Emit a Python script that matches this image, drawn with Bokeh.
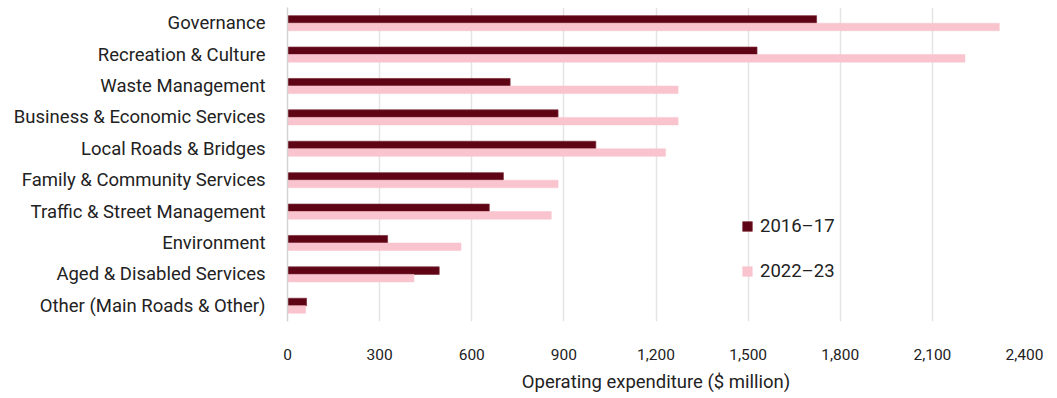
from bokeh.plotting import figure
from bokeh.models import FixedTicker, NumeralTickFormatter, ColumnDataSource, Legend, LegendItem, FactorRange
from bokeh.transform import dodge
from bokeh.embed import file_html
from bokeh.resources import INLINE

categories = ["Governance", "Recreation & Culture", "Waste Management",
              "Business & Economic Services", "Local Roads & Bridges",
              "Family & Community Services", "Traffic & Street Management",
              "Environment", "Aged & Disabled Services", "Other (Main Roads & Other)"]
values_2016_17 = [1723, 1529, 725, 881, 1004, 703, 657, 326, 494, 62]
values_2022_23 = [2318, 2206, 1272, 1272, 1231, 881, 859, 565, 412, 59]
series_names = ["2016\u201317", "2022\u201323"]
x_ticks = [0, 300, 600, 900, 1200, 1500, 1800, 2100, 2400]

FONT = "Roboto"
TXT = "#222222"
DARK = "#5E0414"
PINK = "#F9C4CE"

src = ColumnDataSource(dict(cat=categories, a=values_2016_17, b=values_2022_23))

p = figure(width=1057, height=398, output_backend="svg", toolbar_location=None,
           y_range=FactorRange(factors=list(reversed(categories))),
           x_range=(0, 2400))
p.min_border_left = 287
p.min_border_right = 33
p.min_border_top = 7
p.min_border_bottom = 77
p.outline_line_color = None

r1 = p.hbar(y=dodge("cat", 0.12, range=p.y_range), right="a", height=0.24, source=src,
            fill_color=DARK, line_color="#7a2a38", line_width=0.7)
r2 = p.hbar(y=dodge("cat", -0.12, range=p.y_range), right="b", height=0.24, source=src,
            fill_color=PINK, line_color=PINK, line_width=0.5)

p.xaxis.ticker = FixedTicker(ticks=x_ticks)
p.xaxis.formatter = NumeralTickFormatter(format="0,0")
p.xaxis.axis_line_color = None
p.xaxis.major_tick_line_color = None
p.xaxis.minor_tick_line_color = None
p.xaxis.major_label_standoff = 21
p.xaxis.major_label_text_font = FONT
p.xaxis.major_label_text_font_size = "15.5px"
p.xaxis.major_label_text_color = TXT
p.xaxis.axis_label = "Operating expenditure ($ million)"
p.xaxis.axis_label_text_font = FONT
p.xaxis.axis_label_text_font_size = "18.5px"
p.xaxis.axis_label_text_font_style = "normal"
p.xaxis.axis_label_text_color = TXT
p.xaxis.axis_label_standoff = 8

p.yaxis.axis_line_color = "#d4d4d4"
p.yaxis.axis_line_width = 1.5
p.yaxis.major_tick_line_color = None
p.yaxis.minor_tick_line_color = None
p.yaxis.major_label_standoff = 16
p.yaxis.major_label_text_font = FONT
p.yaxis.major_label_text_font_size = "18.5px"
p.yaxis.major_label_text_color = TXT

p.xgrid.ticker = FixedTicker(ticks=x_ticks)
p.xgrid.grid_line_color = "#e4e4e4"
p.xgrid.grid_line_width = 1.5
p.ygrid.grid_line_color = None

legend = Legend(items=[LegendItem(label=series_names[0], renderers=[r1]),
                       LegendItem(label=series_names[1], renderers=[r2])],
                location=(454, 39), orientation="vertical")
legend.background_fill_alpha = 0
legend.border_line_color = None
legend.padding = 0
legend.margin = 0
legend.glyph_width = 12
legend.glyph_height = 12
legend.label_height = 20
legend.spacing = 23
legend.label_standoff = 7
legend.label_text_font = FONT
legend.label_text_font_size = "18.5px"
legend.label_text_color = TXT
p.add_layout(legend)

open("out.html", "w").write(file_html(p, INLINE))
